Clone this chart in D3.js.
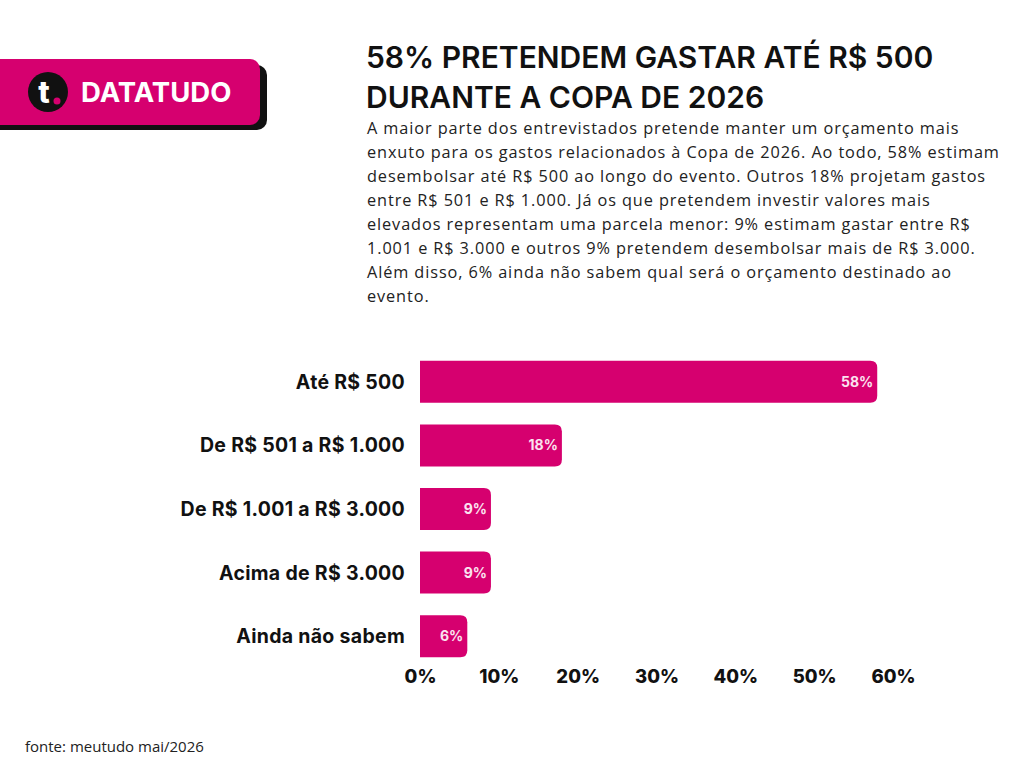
<!DOCTYPE html>
<html lang="pt">
<head>
<meta charset="UTF-8">
<title>58% pretendem gastar até R$ 500</title>
<script src="https://cdn.jsdelivr.net/npm/d3@7"></script>
<style>
  body { margin: 0; background: #fff; }
  svg { display: block; }
  .title { font-family: Inter, sans-serif; font-weight: 600; font-size: 30px; fill: #111; }
  .desc { font-family: "Open Sans", sans-serif; font-size: 16.3px; letter-spacing: 0.9px; fill: #222; }
  .cat { font-family: Inter, sans-serif; font-weight: 700; font-size: 19.5px; letter-spacing: 0.3px; fill: #111; }
  .tick text { font-family: Inter, sans-serif; font-weight: 800; font-size: 18.5px; fill: #111; }
  .val { font-family: Inter, sans-serif; font-weight: 700; font-size: 14px; fill: #fbe3f0; }
  .src { font-family: "Open Sans", sans-serif; font-size: 15px; fill: #222; }
</style>
</head>
<body>
<script>
const categories = ["Até R$ 500", "De R$ 501 a R$ 1.000", "De R$ 1.001 a R$ 3.000", "Acima de R$ 3.000", "Ainda não sabem"];
const values = [58, 18, 9, 9, 6];
const ticks = [0, 10, 20, 30, 40, 50, 60];

const titleLines = ["58% PRETENDEM GASTAR ATÉ R$ 500", "DURANTE A COPA DE 2026"];
const descLines = [
  "A maior parte dos entrevistados pretende manter um orçamento mais",
  "enxuto para os gastos relacionados à Copa de 2026. Ao todo, 58% estimam",
  "desembolsar até R$ 500 ao longo do evento. Outros 18% projetam gastos",
  "entre R$ 501 e R$ 1.000. Já os que pretendem investir valores mais",
  "elevados representam uma parcela menor: 9% estimam gastar entre R$",
  "1.001 e R$ 3.000 e outros 9% pretendem desembolsar mais de R$ 3.000.",
  "Além disso, 6% ainda não sabem qual será o orçamento destinado ao",
  "evento."
];
const source = "fonte: meutudo mai/2026";

const pink = "#d6006f";
const W = 1024, H = 768;
const svg = d3.select("body").append("svg").attr("width", W).attr("height", H);

// logo
const logo = svg.append("g");
logo.append("rect").attr("x", -20).attr("y", 65).attr("width", 287).attr("height", 65).attr("rx", 10).attr("fill", "#111");
logo.append("rect").attr("x", -20).attr("y", 59).attr("width", 280).attr("height", 66).attr("rx", 10).attr("fill", pink);
logo.append("circle").attr("cx", 48).attr("cy", 92).attr("r", 20).attr("fill", "#111");
logo.append("text").attr("x", 44).attr("y", 103).attr("text-anchor", "middle")
  .style("font-family", "Inter, sans-serif").style("font-weight", 800).style("font-size", "30px").attr("fill", "#fff").text("t");
logo.append("circle").attr("cx", 57).attr("cy", 101).attr("r", 3.5).attr("fill", pink);
logo.append("text").attr("x", 81).attr("y", 102)
  .style("font-family", "Inter, sans-serif").style("font-weight", 700).style("font-size", "27.5px").attr("fill", "#fff").text("DATATUDO");

// title + description
svg.selectAll("text.title").data(titleLines).join("text").attr("class", "title")
  .attr("x", 366).attr("y", (d, i) => 68 + i * 40).text(d => d);
svg.selectAll("text.desc").data(descLines).join("text").attr("class", "desc")
  .attr("x", 367).attr("y", (d, i) => 134 + i * 24).text(d => d);

// chart
const x = d3.scaleLinear().domain([0, 60]).range([420, 893]);
const y = d3.scaleBand().domain(categories).range([350, 668]).paddingInner(0.34).paddingOuter(0.17);

const r = 7;
function barPath(x0, x1, y0, h) {
  const rr = Math.min(r, (x1 - x0));
  return `M${x0},${y0}H${x1 - rr}Q${x1},${y0} ${x1},${y0 + rr}V${y0 + h - rr}Q${x1},${y0 + h} ${x1 - rr},${y0 + h}H${x0}Z`;
}

svg.selectAll("path.bar").data(values).join("path").attr("class", "bar")
  .attr("d", (d, i) => barPath(x(0), x(d), y(categories[i]), y.bandwidth()))
  .attr("fill", pink);

svg.selectAll("text.val").data(values).join("text").attr("class", "val")
  .attr("x", d => x(d) - 4).attr("y", (d, i) => y(categories[i]) + y.bandwidth() / 2 + 5)
  .attr("text-anchor", "end").text(d => d + "%");

svg.selectAll("text.cat").data(categories).join("text").attr("class", "cat")
  .attr("x", 405).attr("y", d => y(d) + y.bandwidth() / 2 + 7)
  .attr("text-anchor", "end").text(d => d);

const axis = svg.append("g").attr("transform", "translate(0,670)")
  .call(d3.axisBottom(x).tickValues(ticks).tickFormat(d => d + "%").tickSize(0).tickPadding(0));
axis.select(".domain").remove();
axis.selectAll(".tick text").attr("dy", "0.71em");

svg.append("text").attr("class", "src").attr("x", 25).attr("y", 752).text(source);
</script>
</body>
</html>
